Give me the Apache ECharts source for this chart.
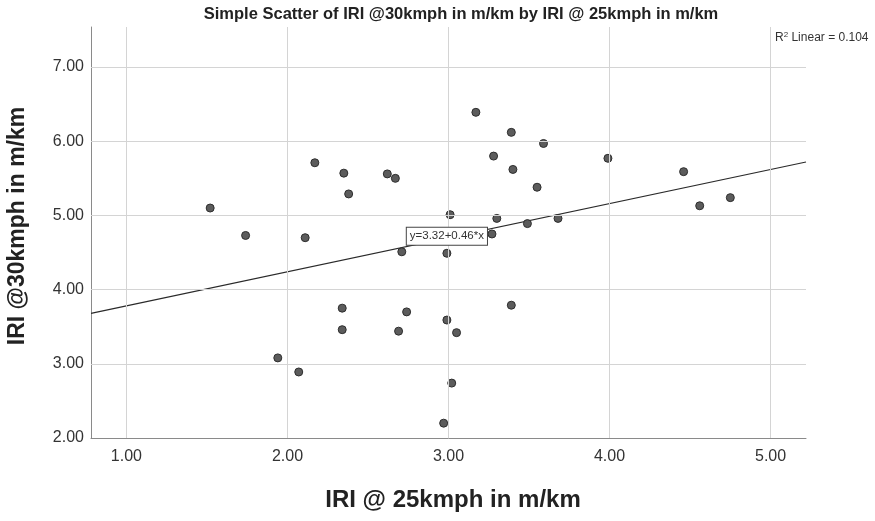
<!DOCTYPE html>
<html>
<head>
<meta charset="utf-8">
<script src="https://cdn.jsdelivr.net/npm/echarts@6/dist/echarts.min.js"></script>
<style>html,body{margin:0;padding:0;background:#fff}#c{width:875px;height:521px}</style>
</head>
<body>
<div id="c"></div>
<script>
var xTicks = [1, 2, 3, 4, 5];
var yTicks = [2, 3, 4, 5, 6, 7];
var iri25 = [1.52, 1.74, 1.94, 2.07, 2.11, 2.17, 2.35, 2.34, 2.34, 2.38, 2.62, 2.67, 2.69, 2.71, 2.74, 2.97, 2.99, 2.99, 3.01, 3.02, 3.05, 3.17, 3.27, 3.28, 3.30, 3.39, 3.40, 3.39, 3.49, 3.55, 3.59, 3.68, 3.99, 4.46, 4.56, 4.75];
var iri30 = [5.10, 4.73, 3.08, 2.89, 4.70, 5.71, 5.57, 3.75, 3.46, 5.29, 5.56, 5.50, 3.44, 4.51, 3.70, 2.20, 4.49, 3.59, 5.01, 2.74, 3.42, 6.39, 4.75, 5.80, 4.96, 6.12, 5.62, 3.79, 4.89, 5.38, 5.97, 4.96, 5.77, 5.59, 5.13, 5.24];
var fitLine = [[0.78, 3.68], [5.22, 5.72]];
var fitLabel = 'y=3.32+0.46*x';
var fitLabelPos = [2.99, 4.72];

var FONT = 'Liberation Sans, Arial, sans-serif';
var pts = iri25.map(function (v, i) { return [v, iri30[i]]; });

var chart = echarts.init(document.getElementById('c'), null, {renderer: 'canvas'});
var grid = {left: 91, right: 69, top: 27, bottom: 83};
var gridLines = [];
xTicks.forEach(function (v) { gridLines.push({xAxis: v}); });
yTicks.slice(1).forEach(function (v) { gridLines.push({yAxis: v}); });

chart.setOption({
  animation: false,
  backgroundColor: '#ffffff',
  grid: grid,
  xAxis: {
    type: 'value', min: 0.78, max: 5.22,
    axisLine: {show: true, onZero: false, lineStyle: {color: '#8a8a8a', width: 1}},
    axisTick: {show: false},
    splitLine: {show: false},
    axisLabel: {
      customValues: xTicks, margin: 11,
      formatter: function (v) { return v.toFixed(2); },
      fontFamily: FONT, fontSize: 16, color: '#333'
    }
  },
  yAxis: {
    type: 'value', min: 2, max: 7.54,
    axisLine: {show: true, onZero: false, lineStyle: {color: '#8a8a8a', width: 1}},
    axisTick: {show: false},
    splitLine: {show: false},
    axisLabel: {
      customValues: yTicks, margin: 7,
      formatter: function (v) { return v.toFixed(2); },
      fontFamily: FONT, fontSize: 16, color: '#333'
    }
  },
  series: [
    {
      type: 'line', data: [], silent: true,
      markLine: {
        silent: true, symbol: 'none', animation: false,
        label: {show: false},
        lineStyle: {color: '#d4d4d4', width: 1, type: 'solid'},
        data: gridLines
      },
      z: 1
    },
    {
      type: 'line', data: fitLine, showSymbol: false, silent: true,
      lineStyle: {color: '#2a2a2a', width: 1.2},
      z: 3
    },
    {
      type: 'scatter', data: pts, symbolSize: 8,
      itemStyle: {color: '#5c5c5c', borderColor: '#2e2e2e', borderWidth: 1, opacity: 1},
      z: 4
    },
    {
      type: 'scatter', data: [], silent: true,
      markPoint: {
        symbol: 'rect', symbolSize: 0, silent: true, animation: false,
        label: {
          show: true, position: 'inside', formatter: fitLabel,
          fontFamily: FONT, fontSize: 11.5, color: '#333',
          backgroundColor: '#ffffff', borderColor: '#444', borderWidth: 1,
          padding: [3, 3, 2, 3]
        },
        data: [{coord: fitLabelPos}]
      },
      z: 5
    }
  ],
  graphic: [
    {type: 'text', x: 461, y: 14, z: 10, style: {text: 'Simple Scatter of IRI @30kmph in m/km by IRI @ 25kmph in m/km', font: 'bold 16.5px ' + FONT, fill: '#222', textAlign: 'center', textVerticalAlign: 'middle'}},
    {type: 'text', x: 775, y: 38, z: 10, style: {
      text: '{r|R}{s|2}{r| Linear = 0.104}',
      rich: {r: {fontFamily: FONT, fontSize: 12, fill: '#333', color: '#333'}, s: {fontFamily: FONT, fontSize: 8, fill: '#333', color: '#333', verticalAlign: 'top', padding: [0, 0, 6, 0]}},
      textAlign: 'left', textVerticalAlign: 'middle'}},
    {type: 'text', x: 18, y: 226, rotation: Math.PI / 2, z: 10, style: {text: 'IRI @30kmph in m/km', font: 'bold 23px ' + FONT, fill: '#222', textAlign: 'center', textVerticalAlign: 'middle'}},
    {type: 'text', x: 453, y: 500, z: 10, style: {text: 'IRI @ 25kmph in m/km', font: 'bold 24px ' + FONT, fill: '#222', textAlign: 'center', textVerticalAlign: 'middle'}}
  ]
});
</script>
</body>
</html>
